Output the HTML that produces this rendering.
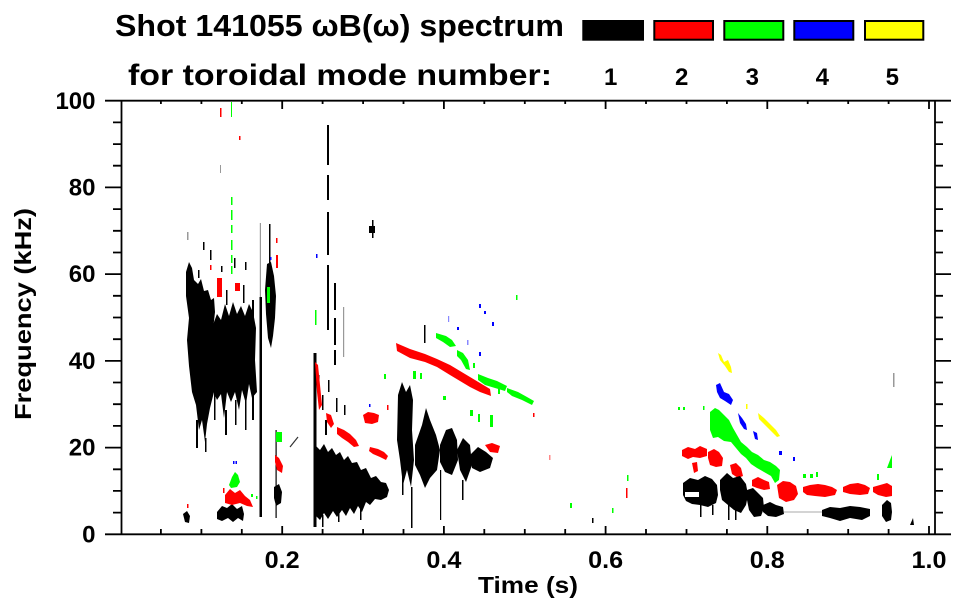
<!DOCTYPE html>
<html><head><meta charset="utf-8"><style>
html,body{margin:0;padding:0;background:#fff;}
svg{display:block;}
text{font-family:"Liberation Sans",Arial,sans-serif;font-weight:bold;fill:#000;}
</style></head><body>
<svg width="963" height="615" viewBox="0 0 963 615" xmlns="http://www.w3.org/2000/svg">
<rect width="963" height="615" fill="#fff"/>

<!-- Title -->
<text x="115" y="36" font-size="31" textLength="449" lengthAdjust="spacingAndGlyphs">Shot 141055 ωB(ω) spectrum</text>
<text x="128" y="85" font-size="30" textLength="424" lengthAdjust="spacingAndGlyphs">for toroidal mode number:</text>

<!-- Legend -->
<rect x="582.3" y="20" width="61.7" height="20.7" fill="#000"/>
<rect x="654.3" y="21" width="58.7" height="18.7" fill="#f00" stroke="#000" stroke-width="2"/>
<rect x="724.3" y="21" width="59" height="18.7" fill="#0f0" stroke="#000" stroke-width="2"/>
<rect x="794.3" y="21" width="59" height="18.7" fill="#00f" stroke="#000" stroke-width="2"/>
<rect x="865" y="21" width="58.3" height="18.7" fill="#ff0" stroke="#000" stroke-width="2"/>
<g font-size="24" text-anchor="middle">
<text x="610.7" y="85">1</text>
<text x="681.7" y="85">2</text>
<text x="752.3" y="85">3</text>
<text x="822.3" y="85">4</text>
<text x="892.3" y="85">5</text>
</g>

<!-- ===== DATA ===== -->
<!-- Region 1 black -->
<g fill="#000">
<path d="M186,272 L189,262 L192,268 L194,280 L198,284 L201,279 L204,291 L208,290 L211,300 L214,298 L215,312 L213,330 L215,352 L212,372 L214,392 L210,408 L207,424 L205,442 L202,420 L199,430 L196,405 L192,392 L189,366 L187,340 L189,318 L186,296 Z"/>
<path d="M211,330 L217,314 L221,320 L225,304 L229,316 L233,302 L237,314 L241,306 L245,316 L249,304 L253,312 L256,328 L255,360 L257,392 L252,398 L249,384 L246,404 L242,390 L239,410 L235,392 L231,402 L227,392 L224,418 L221,394 L217,400 L212,388 Z"/>
<rect x="196" y="420" width="2" height="28"/>
<rect x="205" y="438" width="1.5" height="14"/>
<rect x="214" y="390" width="1.5" height="30"/>
<rect x="225" y="410" width="2" height="25"/>
<rect x="235" y="400" width="1.5" height="25"/>
<rect x="245" y="395" width="1.5" height="35"/>
<rect x="252" y="300" width="2" height="120"/>
<rect x="259.5" y="297" width="2.5" height="220"/>
<path d="M267,264 L271,262 L274,276 L276,296 L275,318 L273,336 L271,348 L268,338 L266,314 L265,290 Z"/>
<rect x="269" y="224" width="1.5" height="40"/>
<rect x="210" y="250" width="1.5" height="10"/>
<rect x="221" y="266" width="1.5" height="6"/>
<rect x="234" y="258" width="1.5" height="10"/>
<rect x="203" y="242" width="1.5" height="8"/>
<rect x="245" y="262" width="1.5" height="8"/>
<rect x="198" y="270" width="1.5" height="8"/>
<rect x="226" y="290" width="1.5" height="15"/>
<rect x="243" y="285" width="1.5" height="18"/>
</g>
<g fill="#999">
<rect x="187" y="232" width="1.5" height="8"/>
<rect x="259.8" y="223" width="1.2" height="74"/>
<rect x="220" y="165" width="1" height="8"/>
</g>
<!-- Region 1 colors -->
<g fill="#f00">
<rect x="217" y="278" width="5" height="19"/>
<rect x="235" y="283" width="5" height="8"/>
<rect x="276" y="255" width="2" height="13"/>
<rect x="276" y="238" width="1.5" height="5"/>
<rect x="220" y="108" width="1.5" height="9"/>
<rect x="239" y="136" width="1.5" height="4"/>
<rect x="210" y="265" width="1.5" height="5"/>
</g>
<g fill="#0f0">
<rect x="231" y="197" width="1.5" height="8"/>
<rect x="231" y="210" width="1.5" height="10"/>
<rect x="231" y="225" width="1.5" height="8"/>
<rect x="231" y="240" width="1.5" height="10"/>
<rect x="231" y="255" width="1.5" height="8"/>
<rect x="231" y="266" width="1.5" height="8"/>
<rect x="231" y="102" width="1" height="15"/>
<rect x="267" y="287" width="3" height="16"/>
</g>
<rect x="270" y="257" width="1.5" height="3" fill="#00f"/>

<!-- Region B (bottom-left cluster) -->
<g fill="#000">
<path d="M183,514 L187,511 L190,516 L189,523 L185,522 Z"/>
<path d="M217,512 L222,506 L227,508 L232,504 L237,509 L242,506 L244,514 L243,521 L238,518 L233,522 L228,518 L222,521 L217,519 Z"/>
<path d="M274,487 L279,484 L282,492 L281,503 L276,506 L274,498 Z"/>
<rect x="275.5" y="430" width="1.2" height="88"/>
</g>
<g fill="#f00">
<path d="M225,495 L230,489 L235,493 L240,490 L245,496 L250,500 L253,507 L247,506 L240,503 L232,505 L225,503 Z"/>
<rect x="187" y="504" width="1.5" height="4"/>
<rect x="223" y="488" width="1.5" height="5"/>
<path d="M275,455 L279,458 L283,466 L282,473 L277,470 L275,462 Z"/>
</g>
<g fill="#0f0">
<path d="M229,485 L232,477 L235,472 L238,475 L240,482 L237,487 L231,488 Z"/>
<rect x="251" y="494" width="2" height="3"/>
<rect x="256" y="496" width="1.5" height="3"/>
<rect x="276" y="432" width="6" height="10"/>
</g>
<g fill="#00f">
<rect x="233" y="461" width="1.5" height="3"/>
<rect x="235.5" y="461" width="1.5" height="3"/>
</g>
<path d="M290,447 L298,437" stroke="#333" stroke-width="1.2"/>

<!-- Region 4 -->
<g fill="#000">
<rect x="327" y="125" width="2" height="40"/>
<rect x="327" y="175" width="2" height="25"/>
<rect x="327" y="212" width="2" height="43"/>
<rect x="327" y="265" width="2" height="65"/>
<rect x="334" y="283" width="2" height="27"/>
<rect x="334" y="318" width="2" height="27"/>
<rect x="334" y="350" width="2" height="15"/>
<rect x="313.5" y="353" width="3" height="174"/>
<path d="M315,445 L320,450 L324,444 L328,452 L332,448 L336,455 L340,452 L344,460 L348,456 L352,463 L357,462 L361,470 L366,468 L371,478 L376,476 L381,482 L386,483 L389,490 L387,497 L381,500 L375,499 L370,505 L366,502 L362,512 L358,506 L354,514 L350,508 L346,516 L342,510 L337,517 L333,511 L328,519 L324,513 L320,520 L316,516 Z"/>
<rect x="322" y="515" width="1.5" height="12"/>
<rect x="338" y="512" width="1.5" height="10"/>
<rect x="360" y="505" width="1.5" height="15"/>
<rect x="318" y="375" width="1.5" height="10"/>
<rect x="322" y="395" width="1.5" height="15"/>
<rect x="328" y="380" width="1.5" height="12"/>
<rect x="336" y="398" width="1.5" height="14"/>
<rect x="344" y="405" width="1.5" height="10"/>
<rect x="325" y="420" width="2" height="15"/>
<rect x="369" y="226" width="6" height="7"/>
<rect x="372" y="220" width="1.5" height="18"/>
</g>
<rect x="343" y="307" width="1.2" height="50" fill="#999"/>
<g fill="#f00">
<path d="M315,362 L318,365 L320,385 L322,405 L319,410 L317,392 Z"/>
<path d="M326,413 L331,415 L334,424 L331,428 L327,422 Z"/>
<path d="M337,427 L344,430 L350,434 L356,440 L359,446 L354,447 L348,442 L342,438 L337,434 Z"/>
<path d="M370,447 L378,449 L384,452 L388,456 L386,460 L380,457 L373,454 L369,451 Z"/>
<path d="M363,415 L368,412 L374,413 L379,415 L378,422 L372,424 L365,423 Z"/>
<rect x="387" y="405" width="1.5" height="5"/>
</g>
<rect x="316" y="254" width="1.5" height="4" fill="#00f"/>
<rect x="369" y="404" width="1.5" height="3" fill="#00f"/>
<rect x="315" y="310" width="1.5" height="15" fill="#0f0"/>
<rect x="384" y="374" width="2" height="5" fill="#0f0"/>

<!-- Region 5 -->
<g fill="#000">
<path d="M398,395 L402,382 L406,392 L410,385 L413,400 L412,430 L414,460 L411,487 L407,470 L403,485 L400,460 L397,440 Z"/>
<path d="M415,445 L422,425 L426,408 L430,420 L436,435 L440,450 L437,470 L430,478 L425,488 L420,475 L415,465 Z"/>
<path d="M440,445 L446,430 L452,428 L457,440 L458,460 L452,475 L445,472 L440,462 Z"/>
<path d="M457,450 L463,438 L470,445 L472,465 L466,482 L460,470 Z"/>
<path d="M470,455 L478,447 L486,452 L493,458 L490,468 L480,472 L472,468 Z"/>
<rect x="411" y="487" width="1.5" height="41"/>
<rect x="462" y="480" width="1.5" height="20"/>
<rect x="440" y="470" width="1.2" height="50"/>
<rect x="424" y="325" width="1.5" height="18"/>
<rect x="402" y="475" width="1.5" height="20"/>
</g>
<g fill="#f00">
<path d="M396,343 L410,349 L425,354 L437,359 L450,365 L460,371 L470,377 L480,383 L490,389 L491,396 L480,392 L470,387 L460,381 L450,375 L437,367 L425,362 L410,358 L397,351 Z"/>
<path d="M485,445 L492,443 L500,446 L498,453 L490,452 Z"/>
<rect x="533" y="413" width="1.5" height="4"/>
<rect x="549" y="455" width="1.5" height="5" fill="#f88"/>
</g>
<g fill="#0f0">
<path d="M436,333 L446,336 L452,340 L456,346 L450,347 L443,342 L436,338 Z"/>
<path d="M457,350 L463,353 L468,360 L470,370 L466,369 L461,360 L457,356 Z"/>
<path d="M478,374 L488,378 L497,381 L507,386 L505,391 L495,388 L485,385 L478,380 Z"/>
<path d="M507,388 L518,392 L527,397 L534,401 L532,405 L522,400 L512,396 L507,392 Z"/>
<rect x="473" y="363" width="2" height="5"/>
<rect x="413" y="371" width="3" height="8"/>
<rect x="420" y="373" width="2" height="6"/>
<rect x="443" y="396" width="3" height="4"/>
<rect x="470" y="410" width="3" height="6"/>
<rect x="478" y="414" width="2" height="8"/>
<rect x="490" y="415" width="3" height="12"/>
<rect x="516" y="295" width="1.5" height="5"/>
<rect x="498" y="388" width="2" height="6"/>
</g>
<g fill="#00f">
<rect x="479" y="304" width="2" height="4"/>
<rect x="484" y="311" width="2" height="3"/>
<rect x="492" y="322" width="2" height="4"/>
<rect x="448" y="316" width="1.2" height="6" fill="#88f"/>
<rect x="457" y="327" width="2" height="3"/>
<rect x="467" y="340" width="1.5" height="5" fill="#88f"/>
<rect x="479" y="352" width="2" height="4"/>
</g>

<!-- Region 6 small -->
<rect x="570" y="503" width="2" height="5" fill="#0f0"/>
<rect x="592" y="518" width="1.5" height="5" fill="#000"/>
<rect x="612" y="508" width="1.5" height="5" fill="#0f0"/>
<rect x="626" y="488" width="1.5" height="10" fill="#f00"/>
<rect x="627" y="475" width="1.5" height="6" fill="#0f0"/>

<!-- Region 7 -->
<g fill="#ff0">
<path d="M718,353 L721,355 L724,362 L728,360 L731,367 L732,373 L729,372 L725,366 L720,360 Z"/>
<rect x="746" y="404" width="1.5" height="5"/>
<path d="M758,413 L764,418 L770,424 L776,430 L780,436 L777,437 L771,431 L765,425 L759,419 Z"/>
</g>
<g fill="#00f">
<path d="M716,385 L720,383 L724,392 L729,394 L733,400 L731,405 L725,401 L720,398 L717,392 Z"/>
<path d="M738,413 L742,418 L746,424 L747,430 L744,429 L740,423 Z"/>
<path d="M753,431 L757,433 L758,440 L755,439 Z"/>
<rect x="779" y="451" width="3" height="4"/>
<rect x="793" y="457" width="2" height="4"/>
</g>
<g fill="#0f0">
<path d="M710,412 L715,408 L719,410 L724,415 L729,420 L733,428 L737,435 L741,442 L747,447 L752,452 L758,455 L764,460 L770,462 L776,466 L780,470 L779,480 L775,483 L771,476 L764,472 L757,468 L751,464 L746,458 L741,454 L736,448 L731,442 L724,441 L718,437 L713,438 L710,430 Z"/>
<rect x="803" y="474" width="3" height="4"/>
<rect x="810" y="474" width="3" height="4"/>
<rect x="816" y="472" width="2" height="5"/>
<rect x="877" y="474" width="2" height="6"/>
<path d="M887,468 L890,460 L892,455 L892,468 Z"/>
<rect x="678" y="407" width="2" height="3"/>
<rect x="683" y="407" width="2" height="3"/>
<rect x="703" y="406" width="1.5" height="4"/>
</g>
<g fill="#f00">
<path d="M682,450 L688,447 L695,449 L700,446 L707,449 L707,456 L700,458 L693,457 L688,459 L682,456 Z"/>
<path d="M692,463 L697,462 L698,471 L694,473 Z"/>
<path d="M708,452 L714,449 L719,452 L723,458 L722,466 L716,467 L710,465 L708,458 Z"/>
<path d="M730,465 L736,463 L741,468 L743,476 L738,478 L732,474 Z"/>
<path d="M752,480 L758,477 L764,480 L769,482 L770,489 L764,490 L757,488 L752,486 Z"/>
<path d="M777,485 L783,481 L790,482 L796,486 L798,494 L794,500 L786,502 L779,498 Z"/>
<path d="M803,487 L810,485 L818,484 L825,485 L832,487 L837,490 L835,495 L825,497 L815,496 L807,495 L803,492 Z"/>
<path d="M843,487 L850,484 L858,483 L865,485 L870,488 L868,494 L860,495 L850,494 L843,492 Z"/>
<path d="M873,487 L880,485 L887,483 L892,486 L892,496 L886,497 L878,495 L873,492 Z"/>
</g>
<g fill="#000">
<path d="M683,483 L690,478 L698,480 L705,476 L712,479 L717,485 L718,495 L716,503 L708,507 L700,505 L692,504 L686,501 L683,495 Z"/>
<path d="M720,480 L727,473 L733,478 L740,476 L746,484 L748,495 L746,505 L741,513 L734,510 L728,505 L722,500 L720,490 Z"/>
<path d="M747,490 L753,488 L758,493 L763,498 L764,508 L761,516 L754,517 L749,510 L747,500 Z"/>
<path d="M763,505 L770,502 L776,505 L783,507 L784,514 L776,517 L768,516 L763,512 Z"/>
<path d="M822,510 L830,507 L840,508 L850,506 L860,507 L870,509 L870,516 L862,520 L850,518 L840,521 L830,518 L822,516 Z"/>
<path d="M882,505 L887,500 L891,503 L892,512 L891,520 L886,522 L882,516 Z"/>
<rect x="700" y="505" width="1.5" height="12"/>
<rect x="712" y="505" width="1.5" height="10"/>
<rect x="728" y="505" width="1.5" height="15"/>
<rect x="735" y="510" width="1.5" height="10"/>
<path d="M910,525 L913,518 L914,525 Z"/>
</g>
<rect x="685" y="492" width="14" height="5" fill="#fff"/>
<rect x="784" y="511.5" width="38" height="1" fill="#aaa"/>
<rect x="893" y="373" width="1.5" height="14" fill="#999"/>

<!-- ===== AXES ===== -->
<g stroke="#000" stroke-width="1.8" fill="none">
<path d="M121.5,100.7 V534.3"/>
<path d="M935,100.7 V534.3"/>
<path d="M105,534.3 H951"/>
<path d="M105,100.7 H951"/>
<path d="M105,447.6 H121.5 M105,360.9 H121.5 M105,274.1 H121.5 M105,187.4 H121.5
M935,447.6 H951 M935,360.9 H951 M935,274.1 H951 M935,187.4 H951"/>
<path d="M113,512.6 H121.5 M113,490.9 H121.5 M113,469.3 H121.5 M113,425.9 H121.5 M113,404.2 H121.5 M113,382.5 H121.5 M113,339.2 H121.5 M113,317.5 H121.5 M113,295.8 H121.5 M113,252.5 H121.5 M113,230.8 H121.5 M113,209.1 H121.5 M113,165.7 H121.5 M113,144.1 H121.5 M113,122.4 H121.5
M935,512.6 H943 M935,490.9 H943 M935,469.3 H943 M935,425.9 H943 M935,404.2 H943 M935,382.5 H943 M935,339.2 H943 M935,317.5 H943 M935,295.8 H943 M935,252.5 H943 M935,230.8 H943 M935,209.1 H943 M935,165.7 H943 M935,144.1 H943 M935,122.4 H943"/>
<path d="M282.2,534.3 V526 M443.9,534.3 V526 M605.6,534.3 V526 M767.3,534.3 V526 M929,534.3 V526"/>
<path d="M160.9,534.3 V529 M201.4,534.3 V529 M241.8,534.3 V529 M322.6,534.3 V529 M363.1,534.3 V529 M403.5,534.3 V529 M484.3,534.3 V529 M524.8,534.3 V529 M565.2,534.3 V529 M646,534.3 V529 M686.5,534.3 V529 M726.9,534.3 V529 M807.7,534.3 V529 M848.2,534.3 V529 M888.6,534.3 V529"/>
<path d="M282.2,100.7 V109 M443.9,100.7 V109 M605.6,100.7 V109 M767.3,100.7 V109 M929,100.7 V109"/>
<path d="M160.9,100.7 V104 M201.4,100.7 V104 M241.8,100.7 V104 M322.6,100.7 V104 M363.1,100.7 V104 M403.5,100.7 V104 M484.3,100.7 V104 M524.8,100.7 V104 M565.2,100.7 V104 M646,100.7 V104 M686.5,100.7 V104 M726.9,100.7 V104 M807.7,100.7 V104 M848.2,100.7 V104 M888.6,100.7 V104"/>
</g>

<!-- Y tick labels -->
<g font-size="24" text-anchor="end">
<text x="95.5" y="109">100</text>
<text x="95.5" y="195.5">80</text>
<text x="95.5" y="282.2">60</text>
<text x="95.5" y="369">40</text>
<text x="95.5" y="455.7">20</text>
<text x="95.5" y="542.4">0</text>
</g>
<!-- X tick labels -->
<g font-size="24" text-anchor="middle">
<text x="282.2" y="568" textLength="35" lengthAdjust="spacingAndGlyphs">0.2</text>
<text x="443.9" y="568" textLength="35" lengthAdjust="spacingAndGlyphs">0.4</text>
<text x="605.6" y="568" textLength="35" lengthAdjust="spacingAndGlyphs">0.6</text>
<text x="767.3" y="568" textLength="35" lengthAdjust="spacingAndGlyphs">0.8</text>
<text x="929" y="568" textLength="35" lengthAdjust="spacingAndGlyphs">1.0</text>
</g>
<!-- Axis titles -->
<text x="528" y="593" font-size="23" text-anchor="middle" textLength="100" lengthAdjust="spacingAndGlyphs">Time (s)</text>
<text transform="translate(31,314) rotate(-90)" x="0" y="0" font-size="23" text-anchor="middle" textLength="212" lengthAdjust="spacingAndGlyphs">Frequency (kHz)</text>
</svg>
</body></html>
